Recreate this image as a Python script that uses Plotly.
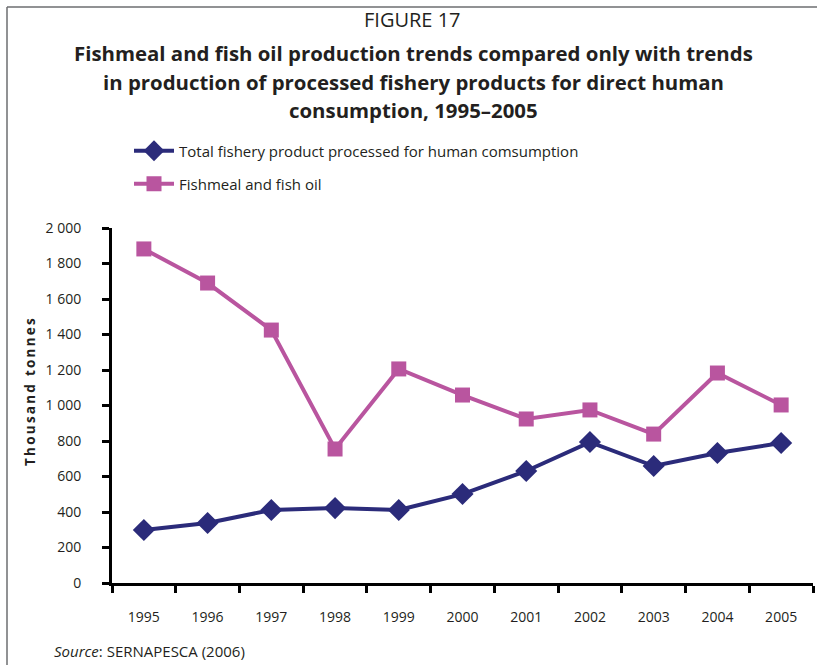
import plotly.graph_objects as go

years = ["1995", "1996", "1997", "1998", "1999", "2000", "2001", "2002", "2003", "2004", "2005"]
human_consumption = [299, 338, 411, 422, 411, 501, 631, 794, 659, 732, 789]
fishmeal_oil = [1882, 1690, 1425, 755, 1206, 1059, 924, 975, 839, 1183, 1003]
y_tickvals = [0, 200, 400, 600, 800, 1000, 1200, 1400, 1600, 1800, 2000]
y_ticktext = ["0", "200", "400", "600", "800", "1 000", "1 200", "1 400", "1 600", "1 800", "2 000"]

NAVY = "#2B2B7A"
PINK = "#B9559F"
FONT = "Open Sans"
TXT = "#231F20"

W, H = 817, 665
L, R, T, B = 112, 4, 228, 82
PW, PH = W - L - R, H - T - B


def px(x):
    return (x - L) / PW


def py(y):
    return (H - B - y) / PH


fig = go.Figure()
fig.add_trace(go.Scatter(
    x=years, y=human_consumption, mode="lines+markers",
    name="Total fishery product processed for human comsumption",
    line=dict(color=NAVY, width=4),
    marker=dict(symbol="diamond", size=17, color=NAVY),
    legend="legend",
))
fig.add_trace(go.Scatter(
    x=years, y=fishmeal_oil, mode="lines+markers",
    name="Fishmeal and fish oil",
    line=dict(color=PINK, width=4),
    marker=dict(symbol="square", size=15, color=PINK),
    legend="legend2",
))

ann = []
ann.append(dict(text="FIGURE 17", x=px(412), y=py(20), xref="paper", yref="paper",
                showarrow=False, xanchor="center", yanchor="middle",
                font=dict(family=FONT, size=20, color=TXT)))
title_lines = [
    "Fishmeal and fish oil production trends compared only with trends",
    "in production of processed fishery products for direct human",
    "consumption, 1995\u20132005",
]
for i, t in enumerate(title_lines):
    ann.append(dict(text="<b>" + t + "</b>", x=px(413), y=py(53 + i * 28.5),
                    xref="paper", yref="paper", showarrow=False,
                    xanchor="center", yanchor="middle",
                    font=dict(family=FONT, size=20.4, color=TXT)))
ann.append(dict(text="<b>" + "\u2009".join("Thousand tonnes") + "</b>",
                x=px(30), y=py(392), xref="paper", yref="paper", showarrow=False,
                textangle=-90, xanchor="center", yanchor="middle",
                font=dict(family=FONT, size=13.5, color=TXT)))
ann.append(dict(text="<i>Source</i>: SERNAPESCA (2006)", x=px(52), y=py(651),
                xref="paper", yref="paper", showarrow=False,
                xanchor="left", yanchor="middle",
                font=dict(family=FONT, size=15, color=TXT)))

shapes = [
    dict(type="line", xref="paper", yref="paper", x0=px(7), x1=px(7), y0=py(7), y1=py(700),
         line=dict(color="#6D6E71", width=1.5)),
    dict(type="line", xref="paper", yref="paper", x0=px(7), x1=px(900), y0=py(7), y1=py(7),
         line=dict(color="#6D6E71", width=1.5)),
]

legend_common = dict(xref="container", yref="container", xanchor="left", yanchor="middle",
                     bgcolor="rgba(0,0,0,0)", borderwidth=0, itemwidth=40,
                     font=dict(family=FONT, size=15, color=TXT))

fig.update_layout(
    width=W, height=H,
    margin=dict(l=L, r=R, t=T, b=B, autoexpand=False),
    paper_bgcolor="white", plot_bgcolor="white",
    showlegend=True,
    legend=dict(x=129 / W, y=1 - 151 / H, **legend_common),
    legend2=dict(x=129 / W, y=1 - 184 / H, **legend_common),
    annotations=ann,
    shapes=shapes,
    xaxis=dict(type="category", range=[-0.5, 10.5], tickson="boundaries",
               showline=True, linecolor="black", linewidth=3,
               ticks="outside", ticklen=7, tickwidth=3, tickcolor="black",
               ticklabelstandoff=19, showgrid=False, zeroline=False,
               tickfont=dict(family=FONT, size=14, color=TXT)),
    yaxis=dict(range=[0, 2000], tickvals=y_tickvals, ticktext=y_ticktext,
               showline=True, linecolor="black", linewidth=3,
               ticks="outside", ticklen=7, tickwidth=3, tickcolor="black",
               ticklabelstandoff=18, showgrid=False, zeroline=False,
               tickfont=dict(family=FONT, size=14, color=TXT)),
)

fig.write_html("out.html")
